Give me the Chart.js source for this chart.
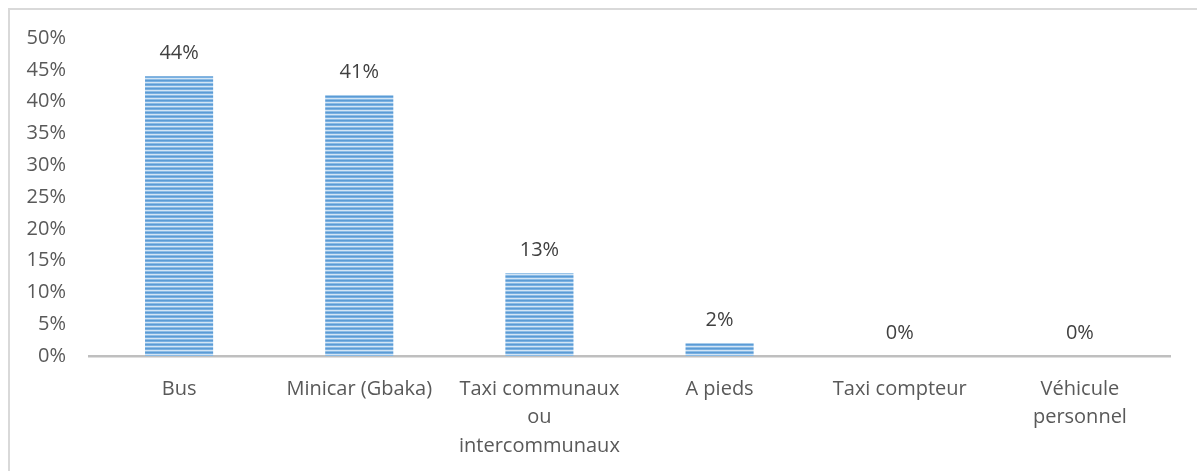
<!DOCTYPE html>
<html>
<head>
<meta charset="utf-8">
<script src="https://cdn.jsdelivr.net/npm/chart.js@4"></script>
<style>
  html, body { margin: 0; padding: 0; background: #ffffff; }
  #wrap { position: relative; width: 1197px; height: 471px; overflow: hidden; }
  #frame { position: absolute; left: 8px; top: 8px; width: 1300px; height: 600px;
           border-top: 2px solid #d9d9d9; border-left: 2px solid #d9d9d9; box-sizing: border-box; }
  canvas { position: absolute; left: 0; top: 0; }
</style>
</head>
<body>
<div id="wrap">
  <div id="frame"></div>
  <canvas id="c" width="1197" height="471"></canvas>
</div>
<script>
// Mode de transport utilisé (part des répondants)
const categories = [
  "Bus",
  "Minicar (Gbaka)",
  ["Taxi communaux", "ou", "intercommunaux"],
  "A pieds",
  "Taxi compteur",
  ["Véhicule", "personnel"]
];
const shares = [0.44, 0.41, 0.13, 0.02, 0, 0];
const yTickMax = 0.5;
const yTickStep = 0.05;

const FONT = '"Open Sans", "Liberation Sans", sans-serif';

// Horizontal striped fill for the bars
function stripePattern() {
  const p = document.createElement('canvas');
  p.width = 8; p.height = 4;
  const g = p.getContext('2d');
  const rows = ['#5b9bd5', '#79b0e1', '#d3e5f5', '#8bbbe5'];
  rows.forEach((col, i) => { g.fillStyle = col; g.fillRect(0, i, 8, 1); });
  return g.createPattern(p, 'repeat');
}

const ctx = document.getElementById('c').getContext('2d');

const valueLabels = {
  id: 'valueLabels',
  afterDatasetsDraw(chart) {
    const c = chart.ctx;
    const meta = chart.getDatasetMeta(0);
    c.save();
    c.font = '20px ' + FONT;
    c.fillStyle = '#404040';
    c.textAlign = 'center';
    c.textBaseline = 'middle';
    meta.data.forEach((bar, i) => {
      const v = chart.data.datasets[0].data[i];
      c.fillText(Math.round(v * 100) + '%', bar.x, bar.y - 23);
    });
    c.restore();
  }
};

new Chart(ctx, {
  type: 'bar',
  data: {
    labels: categories,
    datasets: [{
      data: shares,
      backgroundColor: stripePattern(),
      borderWidth: 0,
      categoryPercentage: 1,
      barPercentage: 0.378
    }]
  },
  options: {
    responsive: false,
    animation: false,
    devicePixelRatio: 1,
    layout: { padding: { top: 38, right: 27, left: 0, bottom: 0 } },
    plugins: { legend: { display: false }, tooltip: { enabled: false } },
    scales: {
      x: {
        grid: { display: false, drawTicks: false },
        border: { display: true, color: '#bfbfbf', width: 2.5 },
        ticks: {
          color: '#595959',
          padding: 19,
          maxRotation: 0,
          autoSkip: false,
          font: { family: FONT, size: 20, lineHeight: 1.42 }
        },
        afterFit(scale) { scale.height = 115; }
      },
      y: {
        min: 0,
        max: yTickMax,
        grid: { display: false, drawTicks: false },
        border: { display: false },
        ticks: {
          stepSize: yTickStep,
          color: '#595959',
          padding: 23,
          font: { family: FONT, size: 20 },
          callback: v => Math.round(v * 100) + '%'
        },
        afterFit(scale) { scale.width = 89; }
      }
    }
  },
  plugins: [valueLabels]
});
</script>
</body>
</html>
